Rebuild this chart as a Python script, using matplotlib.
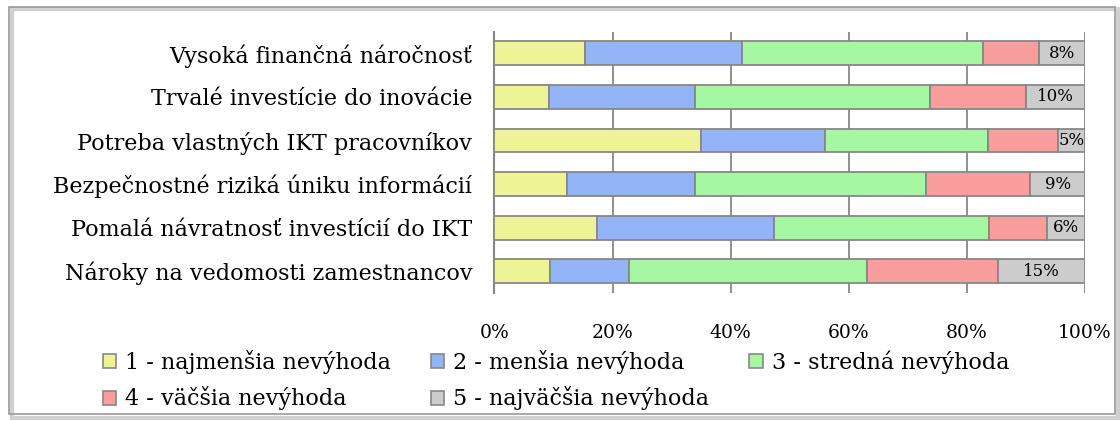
import numpy as np
import matplotlib
matplotlib.use("Agg")
import matplotlib.pyplot as plt
from matplotlib.patches import Rectangle, Patch

plt.rcParams['font.family'] = ['DejaVu Serif']

# Categories (top to bottom as shown)
categories = [
    "Vysoká finančná náročnosť",
    "Trvalé investície do inovácie",
    "Potreba vlastných IKT pracovníkov",
    "Bezpečnostné riziká úniku informácií",
    "Pomalá návratnosť investícií do IKT",
    "Nároky na vedomosti zamestnancov",
]

series_names = [
    "1 - najmenšia nevýhoda",
    "2 - menšia nevýhoda",
    "3 - stredná nevýhoda",
    "4 - väčšia nevýhoda",
    "5 - najväčšia nevýhoda",
]

# percentage shares per category, one list per series
s1 = [15.3, 9.2, 35.0, 12.3, 17.4, 9.4]
s2 = [26.6, 24.8, 21.0, 21.7, 29.9, 13.3]
s3 = [40.9, 39.8, 27.6, 39.0, 36.4, 40.4]
s4 = [9.4, 16.2, 11.8, 17.7, 9.9, 22.1]
s5 = [7.8, 10.0, 4.6, 9.3, 6.4, 14.8]

colors = ["#eef395", "#93b5f8", "#a5f7a1", "#f99d9d", "#cccccc"]
edge = "#878787"

fig = plt.figure(figsize=(11.2, 4.21), dpi=100)
ax = fig.add_axes([0.4415, 0.304, 0.5273, 0.621])

y = np.arange(len(categories))
left = np.zeros(len(categories))
all_series = [s1, s2, s3, s4, s5]
for vals, col, name in zip(all_series, colors, series_names):
    vals = np.array(vals)
    ax.barh(y, vals, left=left, height=0.55, color=col, edgecolor=edge,
            linewidth=1.3, label=name, zorder=3)
    left = left + vals

# labels on the last segment
last_left = left - np.array(s5)
for yi, l, v in zip(y, last_left, s5):
    ax.text(l + v / 2, yi, "%d%%" % round(v), ha="center", va="center",
            fontsize=12, zorder=4)

ax.set_xlim(0, 100)
ax.set_ylim(len(categories) - 0.5, -0.5)
ax.set_yticks(y)
ax.set_yticklabels(categories, fontsize=16)
ax.set_xticks([0, 20, 40, 60, 80, 100])
ax.set_xticklabels(["0%", "20%", "40%", "60%", "80%", "100%"], fontsize=13.5)
ax.tick_params(axis="y", length=0, pad=16)
ax.tick_params(axis="x", length=0, pad=22.5)
ax.grid(axis="x", color=edge, linewidth=1.3, zorder=0)
for s in ["top", "right", "bottom"]:
    ax.spines[s].set_visible(False)
ax.spines["left"].set_color(edge)
ax.spines["left"].set_linewidth(1.5)

handles = [Patch(facecolor=c, edgecolor=edge, linewidth=1.2) for c in colors]
order = [0, 3, 1, 4, 2]
fig.legend([handles[i] for i in order], [series_names[i] for i in order],
           ncol=3, loc="upper left", bbox_to_anchor=(0.092, 0.168),
           frameon=False, fontsize=16, handlelength=0.6, handleheight=0.6,
           handletextpad=0.4, columnspacing=1.8, labelspacing=0.55,
           borderpad=0, borderaxespad=0)

# outer chart border with light shadow
fig.patches.append(Rectangle((12 / 1120, 3 / 421), 1106 / 1120, 409 / 421,
                             transform=fig.transFigure, facecolor="none",
                             edgecolor="#d0d0d0", linewidth=3, zorder=-1))
fig.patches.append(Rectangle((9 / 1120, 7 / 421), 1106 / 1120, 407 / 421,
                             transform=fig.transFigure, facecolor="none",
                             edgecolor="#9a9a9a", linewidth=1.2))

plt.savefig("out.png", dpi=100)
